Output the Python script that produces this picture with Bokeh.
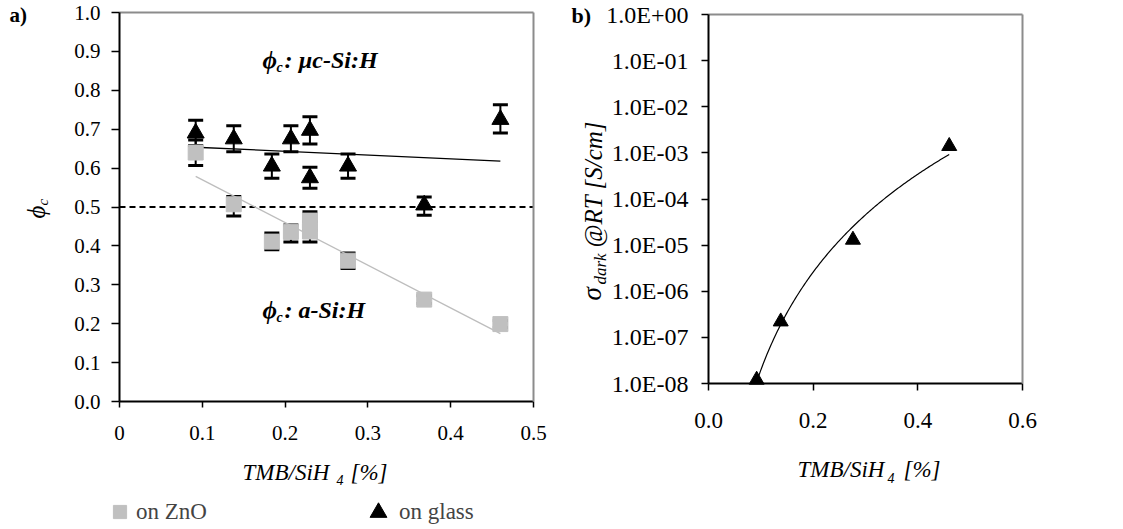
import numpy as np
from bokeh.plotting import figure
from bokeh.layouts import row
from bokeh.models import (Range1d, FixedTicker, PrintfTickFormatter, CustomJSTickFormatter,
                          Whisker, TeeHead, ColumnDataSource, Label, Legend, LegendItem,
                          LinearAxis, LogAxis)
from bokeh.embed import file_html
from bokeh.resources import INLINE

FONT = "Liberation Serif"

# ---------------- data: panel a) crystalline fraction ----------------
glass_x = [0.092, 0.138, 0.184, 0.207, 0.230, 0.230, 0.276, 0.368, 0.460]
glass_y = [0.690, 0.675, 0.605, 0.675, 0.697, 0.575, 0.605, 0.505, 0.725]
glass_lo = [0.658, 0.642, 0.574, 0.642, 0.662, 0.548, 0.574, 0.479, 0.690]
glass_hi = [0.723, 0.709, 0.636, 0.709, 0.732, 0.602, 0.636, 0.526, 0.763]

zno_x = [0.092, 0.138, 0.184, 0.207, 0.230, 0.230, 0.276, 0.368, 0.460]
zno_y = [0.640, 0.507, 0.411, 0.436, 0.465, 0.437, 0.362, 0.262, 0.199]
zno_lo = [0.607, 0.477, 0.390, 0.410, 0.440, 0.410, 0.342, 0.252, 0.190]
zno_hi = [0.672, 0.527, 0.433, 0.454, 0.488, 0.462, 0.382, 0.272, 0.208]

phase_threshold = 0.5
xa_ticks = [0, 0.1, 0.2, 0.3, 0.4, 0.5]
ya_ticks = [0.0, 0.1, 0.2, 0.3, 0.4, 0.5, 0.6, 0.7, 0.8, 0.9, 1.0]

# ---------------- data: panel b) dark conductivity ----------------
sig_x = [0.092, 0.138, 0.276, 0.460]
sig_y = [1.2e-8, 2.2e-7, 1.3e-5, 1.4e-3]
xb_ticks = [0.0, 0.2, 0.4, 0.6]
yb_ticks = [1e-8, 1e-7, 1e-6, 1e-5, 1e-4, 1e-3, 1e-2, 1e-1, 1e0]

# ---------------- layout (pixels) ----------------
W1, W2, H = 560, 563, 529
A_X0, A_X1, A_YT, A_YB = 119, 533, 12, 401      # panel a data box
B_X0, B_X1, B_YT, B_YB = 148, 462, 14, 383      # panel b data box (in its own canvas)
GRAY = "#8c8c8c"


def txt(p, x, y, text, size, style="normal", rotated=False):
    """x, y: start of the text and its baseline, in canvas pixels from top-left."""
    if rotated:
        x = x - 0.34 * size
        angle = np.pi / 2
    else:
        y = y - 0.34 * size
        angle = 0.0
    p.add_layout(Label(x=x, y=y, x_units="canvas", y_units="canvas", text=text,
                       text_font=FONT, text_font_size=f"{size}px", text_font_style=style,
                       text_color="black", angle=angle, text_align="left",
                       text_baseline="middle"))


def style_main_axis(ax, size, tick_out, standoff):
    ax.axis_line_color = "black"
    ax.axis_line_width = 2
    ax.major_tick_line_color = "black"
    ax.major_tick_line_width = 1.5
    ax.major_tick_in = 0
    ax.major_tick_out = tick_out
    ax.minor_tick_line_color = None
    ax.major_label_text_font = FONT
    ax.major_label_text_font_size = size
    ax.major_label_text_color = "black"
    ax.major_label_standoff = standoff


def frame_axis(cls, loc, bounds):
    return cls(fixed_location=loc, bounds=bounds, ticker=FixedTicker(ticks=[]),
               axis_line_color=GRAY, axis_line_width=2, major_tick_line_color=None,
               minor_tick_line_color=None, major_label_text_font_size="0px")


def base_fig(w, xr, yr, **kw):
    p = figure(width=w, height=H, output_backend="svg", toolbar_location=None,
               x_range=xr, y_range=yr, min_border=0, min_border_left=0, min_border_right=0,
               min_border_top=0, min_border_bottom=0, **kw)
    p.xgrid.visible = False
    p.ygrid.visible = False
    p.outline_line_color = None
    p.background_fill_color = "white"
    p.border_fill_color = "white"
    return p


# ================= panel a =================
ax0, ax1 = xa_ticks[0], xa_ticks[-1]
ay0, ay1 = ya_ticks[0], ya_ticks[-1]
sxa = (A_X1 - A_X0) / (ax1 - ax0)
sya = (A_YB - A_YT) / (ay1 - ay0)
pa = base_fig(W1, Range1d(ax0 - A_X0 / sxa, ax0 + (W1 - A_X0) / sxa),
              Range1d(ay0 - (H - A_YB) / sya, ay0 + A_YB / sya))

pa.xaxis.fixed_location = ay0
pa.xaxis.bounds = (ax0, ax1)
pa.yaxis.fixed_location = ax0
pa.yaxis.bounds = (ay0, ay1)
style_main_axis(pa.xaxis[0], "21px", 6, 18)
style_main_axis(pa.yaxis[0], "21px", 8, 11)
pa.xaxis.ticker = FixedTicker(ticks=xa_ticks)
pa.yaxis.ticker = FixedTicker(ticks=ya_ticks)
pa.xaxis.formatter = CustomJSTickFormatter(code="return tick == 0 ? '0' : tick.toFixed(1);")
pa.yaxis.formatter = PrintfTickFormatter(format="%.1f")
pa.add_layout(frame_axis(LinearAxis, ay1, (ax0, ax1)), "above")
pa.add_layout(frame_axis(LinearAxis, ax1, (ay0, ay1)), "right")

# dashed a-Si / uc-Si boundary across the plot area
pa.segment(x0=[ax0], y0=[phase_threshold], x1=[ax1], y1=[phase_threshold],
           line_color="black", line_dash="6 4", line_width=2)

src_g = ColumnDataSource(dict(x=glass_x, y=glass_y, lo=glass_lo, hi=glass_hi))
src_z = ColumnDataSource(dict(x=zno_x, y=zno_y, lo=zno_lo, hi=zno_hi))

for src in (src_z, src_g):
    pa.add_layout(Whisker(source=src, base="x", lower="lo", upper="hi",
                          line_color="black", line_width=2, level="underlay",
                          upper_head=TeeHead(size=15, line_width=3, line_color="black"),
                          lower_head=TeeHead(size=15, line_width=3, line_color="black")))

# linear trend lines (least squares through each series)
cg = np.polyfit(glass_x, glass_y, 1)
xg = np.array([min(glass_x), max(glass_x)])
pa.line(xg, np.polyval(cg, xg), line_color="black", line_width=1.3)
cz = np.polyfit(zno_x, zno_y, 1)
xz = np.array([min(zno_x), max(zno_x)])
pa.line(xz, np.polyval(cz, xz), line_color="#bdbdbd", line_width=1.3)

r_zno = pa.scatter("x", "y", source=src_z, marker="square", size=15,
                   fill_color="#c0c0c0", line_color="#c0c0c0")
r_glass = pa.scatter("x", "y", source=src_g, marker="triangle", size=17,
                     fill_color="black", line_color="black")

leg1 = Legend(items=[LegendItem(label="on ZnO", renderers=[r_zno])], location=(103, 1),
              orientation="horizontal", padding=0, margin=0, border_line_color=None,
              background_fill_alpha=0, glyph_width=33, glyph_height=33, label_standoff=-2,
              label_text_font=FONT, label_text_font_size="23px")
leg2 = Legend(items=[LegendItem(label="on glass", renderers=[r_glass])], location=(357, -4),
              orientation="horizontal", padding=0, margin=0, border_line_color=None,
              background_fill_alpha=0, glyph_width=42, glyph_height=42, label_standoff=-8,
              label_text_font=FONT, label_text_font_size="23px")
pa.add_layout(leg1, "center")
pa.add_layout(leg2, "center")

txt(pa, 9, 22, "a)", 21, "bold")
# y title  phi_c
txt(pa, 44, 218, "\u03d5", 25, "italic", rotated=True)
txt(pa, 48, 205, "c", 15, "italic", rotated=True)
# x title
txt(pa, 242, 480, "TMB/SiH", 23, "italic")
txt(pa, 336, 484, "4", 14, "italic")
txt(pa, 350, 480, "[%]", 23, "italic")
# phase annotations
txt(pa, 262, 68, "\u03d5", 25, "bold italic")
txt(pa, 276, 72, "c", 14, "bold italic")
txt(pa, 284, 68, ": \u00b5c-Si:H", 24, "bold italic")
txt(pa, 262, 318, "\u03d5", 25, "bold italic")
txt(pa, 276, 322, "c", 14, "bold italic")
txt(pa, 284, 318, ": a-Si:H", 24, "bold italic")

# ================= panel b =================
bx0, bx1 = xb_ticks[0], xb_ticks[-1]
by0, by1 = yb_ticks[0], yb_ticks[-1]
sxb = (B_X1 - B_X0) / (bx1 - bx0)
dec = (B_YB - B_YT) / (np.log10(by1) - np.log10(by0))
pb = base_fig(W2, Range1d(bx0 - B_X0 / sxb, bx0 + (W2 - B_X0) / sxb),
              Range1d(10 ** (np.log10(by0) - (H - B_YB) / dec), 10 ** (np.log10(by1) + B_YT / dec)),
              y_axis_type="log")
pb.xaxis.fixed_location = by0
pb.xaxis.bounds = (bx0, bx1)
pb.yaxis.fixed_location = bx0
pb.yaxis.bounds = (by0, by1)
style_main_axis(pb.xaxis[0], "23px", 7, 22)
style_main_axis(pb.yaxis[0], "24px", 7, 13)
pb.xaxis.ticker = FixedTicker(ticks=xb_ticks)
pb.yaxis.ticker = FixedTicker(ticks=yb_ticks)
pb.xaxis.formatter = PrintfTickFormatter(format="%.1f")
pb.yaxis.formatter = CustomJSTickFormatter(code="""
const e = Math.round(Math.log10(tick));
const a = Math.abs(e);
return '1.0E' + (e < 0 ? '-' : '+') + (a < 10 ? '0' : '') + a;
""")
pb.add_layout(frame_axis(LinearAxis, by1, (bx0, bx1)), "above")
pb.add_layout(frame_axis(LogAxis, bx1, (by0, by1)), "right")

# power-law trend line (least squares in log-log)
cb = np.polyfit(np.log10(sig_x), np.log10(sig_y), 1)
xs = np.linspace(min(sig_x), max(sig_x), 150)
pb.line(xs, 10 ** np.polyval(cb, np.log10(xs)), line_color="black", line_width=1.2)
pb.scatter(sig_x, sig_y, marker="triangle", size=15, fill_color="black", line_color="black")

txt(pb, 11, 22, "b)", 22, "bold")
# y title sigma_dark @RT [S/cm]
txt(pb, 41, 300, "\u03c3", 27, "italic", rotated=True)
txt(pb, 46, 284, "dark", 17, "italic", rotated=True)
txt(pb, 41, 247, "@RT [S/cm]", 25, "italic", rotated=True)
# x title
txt(pb, 237, 477, "TMB/SiH", 23, "italic")
txt(pb, 327, 482, "4", 14, "italic")
txt(pb, 343, 477, "[%]", 23, "italic")

layout = row(pa, pb)
open("out.html", "w").write(file_html(layout, INLINE))
